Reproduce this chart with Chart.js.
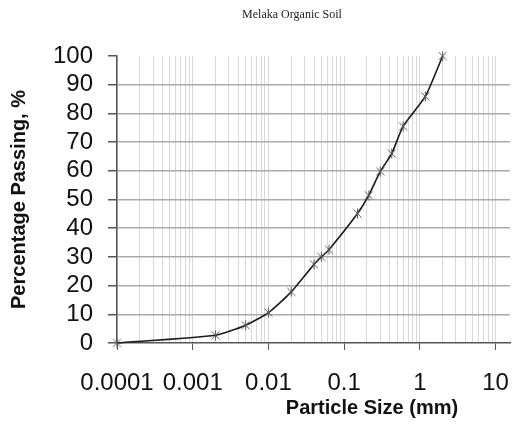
<!DOCTYPE html>
<html>
<head>
<meta charset="utf-8">
<script src="https://cdn.jsdelivr.net/npm/chart.js@4"></script>
<style>
  html, body { margin: 0; padding: 0; background: #fff; }
  #chart { display: block; }
</style>
</head>
<body>
<canvas id="chart" width="512" height="425"></canvas>
<script>
// Datos de la curva granulométrica
const sizes = [0.0001, 0.002, 0.005, 0.01, 0.02, 0.04, 0.05, 0.063, 0.15, 0.212, 0.3, 0.425, 0.6, 1.18, 2];
const passing = [0, 2.7, 6.2, 10.6, 17.8, 27.4, 30.0, 32.5, 45.1, 51.5, 59.8, 66, 75.5, 85.9, 100];
const decades = [0.0001, 0.001, 0.01, 0.1, 1, 10];
const decadeLabels = ['0.0001', '0.001', '0.01', '0.1', '1', '10'];
const yTicks = [0, 10, 20, 30, 40, 50, 60, 70, 80, 90, 100];
const chartTitle = 'Melaka Organic Soil';
const xTitle = 'Particle Size (mm)';
const yTitle = 'Percentage Passing, %';

// Marcador tipo asterisco (como Excel)
function starMarker() {
    const c = document.createElement('canvas');
    c.width = 11; c.height = 11;
    const g = c.getContext('2d');
    g.strokeStyle = '#5a5a5a';
    g.lineWidth = 1;
    g.beginPath();
    g.moveTo(1.5, 1.5); g.lineTo(9.5, 9.5);
    g.moveTo(9.5, 1.5); g.lineTo(1.5, 9.5);
    g.moveTo(5.5, 0.5); g.lineTo(5.5, 10.5);
    g.stroke();
    return c;
}

function isDecade(v) {
    return decades.some(d => Math.abs(v - d) / d < 1e-6);
}

// Títulos desplazados a la derecha del centro, como en el original
const titlePlugin = {
    id: 'offsetTitles',
    afterDraw(chart) {
        const c = chart.ctx;
        c.save();
        c.textAlign = 'center';
        c.textBaseline = 'middle';
        c.fillStyle = '#222';
        c.font = '12px "Liberation Serif", "DejaVu Serif", serif';
        c.fillText(chartTitle, 292, 15);
        c.fillStyle = '#111';
        c.font = 'bold 20px Arial, "Liberation Sans", sans-serif';
        c.fillText(xTitle, 372, 408);
        c.restore();
    }
};

const ctx = document.getElementById('chart').getContext('2d');
const marker = starMarker();

new Chart(ctx, {
    type: 'line',
    data: {
        datasets: [{
            data: sizes.map((s, i) => ({ x: s, y: passing[i] })),
            borderColor: '#1a1a1a',
            borderWidth: 1.6,
            tension: 0.2,
            pointStyle: marker,
            pointRadius: 5,
            clip: false,
            fill: false
        }]
    },
    plugins: [titlePlugin],
    options: {
        responsive: false,
        animation: false,
        devicePixelRatio: 1,
        layout: { autoPadding: false, padding: { left: 0, right: 2, top: 56, bottom: 0 } },
        plugins: {
            legend: { display: false },
            tooltip: { enabled: false },
            title: { display: false }
        },
        scales: {
            x: {
                type: 'logarithmic',
                min: 0.0001,
                max: 15.5,
                afterBuildTicks: function(scale) {
                    const t = [];
                    for (let k = -4; k <= 0; k++) {
                        for (let m = 1; m <= 9; m++) {
                            t.push({ value: m * Math.pow(10, k) });
                        }
                    }
                    t.push({ value: 10 });
                    scale.ticks = t;
                },
                afterFit: function(scale) {
                    scale.height = 82;
                    scale.paddingLeft = 0;
                    scale.paddingRight = 0;
                },
                grid: {
                    color: '#d9d9d9',
                    lineWidth: 1,
                    tickLength: 7,
                    tickColor: ctx => isDecade(ctx.tick.value) ? '#555' : 'rgba(0,0,0,0)'
                },
                border: { color: '#555', width: 1.5 },
                ticks: {
                    autoSkip: false,
                    maxRotation: 0,
                    minRotation: 0,
                    padding: 19,
                    color: '#111',
                    font: { family: 'Arial, "Liberation Sans", sans-serif', size: 24 },
                    callback: function(value) {
                        const i = decades.findIndex(d => Math.abs(value - d) / d < 1e-6);
                        return i >= 0 ? decadeLabels[i] : '';
                    }
                },
                title: { display: false }
            },
            y: {
                min: 0,
                max: 100,
                afterBuildTicks: function(scale) {
                    scale.ticks = yTicks.map(v => ({ value: v }));
                },
                afterFit: function(scale) {
                    scale.width = 117;
                    scale.paddingTop = 0;
                    scale.paddingBottom = 0;
                },
                grid: {
                    color: ctx => (ctx.tick.value === 0 || ctx.tick.value === 100) ? 'rgba(0,0,0,0)' : '#aaaaaa',
                    lineWidth: 1.5,
                    tickLength: 9,
                    tickColor: '#555'
                },
                border: { color: '#555', width: 1.5 },
                ticks: {
                    autoSkip: false,
                    padding: 15,
                    color: '#111',
                    font: { family: 'Arial, "Liberation Sans", sans-serif', size: 24 }
                },
                title: {
                    display: true,
                    text: yTitle,
                    color: '#111',
                    font: { family: 'Arial, "Liberation Sans", sans-serif', size: 20, weight: 'bold' },
                    padding: { top: 7, bottom: 0 }
                }
            }
        }
    }
});
</script>
</body>
</html>
